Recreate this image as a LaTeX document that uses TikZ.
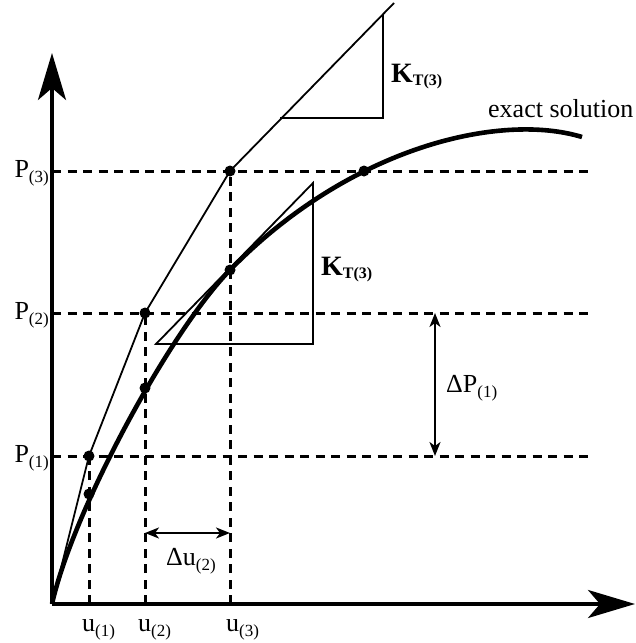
\documentclass[tikz,border=0pt]{standalone}
\usepackage{fontspec}
\setmainfont{Liberation Serif}
\usetikzlibrary{arrows.meta}
\newcommand{\sbs}[1]{\raisebox{-5pt}{\fontsize{17}{20}\selectfont #1}}
\newcommand{\ksbs}[1]{\raisebox{-3pt}{\fontsize{16}{19}\selectfont\bfseries #1}}
\begin{document}
\begin{tikzpicture}[x=1pt,y=-1pt,
  axis/.style={line width=3.4pt},
  guide/.style={line width=3pt, dash pattern=on 9pt off 6.5pt},
  thinline/.style={line width=1.8pt},
  exact/.style={line width=4.6pt},
  dot/.style={circle, fill=black, inner sep=0pt, minimum size=11pt},
  lbl/.style={font=\fontsize{26}{30}\selectfont, inner sep=0pt},
  klbl/.style={font=\fontsize{28}{32}\selectfont\bfseries, inner sep=0pt},
  bigtip/.style={-{Stealth[length=47pt,width=28pt,inset=12pt]}},
  dimarr/.style={line width=2.2pt, {Stealth[length=14pt,width=11pt,inset=4pt]}-{Stealth[length=14pt,width=11pt,inset=4pt]}}
]
\useasboundingbox (0,0) rectangle (636,643);

% axes
\coordinate (O) at (52,604);
\coordinate (ytop) at (52,53);
\coordinate (xend) at (635,604);

% points
\node[dot] (a1) at (89,456) {};
\node[dot] (b1) at (89,494) {};
\node[dot] (a2) at (145,313) {};
\node[dot] (b2) at (145,388) {};
\node[dot] (a3) at (230,171) {};
\node[dot] (b3) at (230,270) {};
\node[dot] (c3) at (364,171) {};

% guide line end coordinates
\coordinate (h1s) at (52,456); \coordinate (h1e) at (590,456);
\coordinate (h2s) at (52,313); \coordinate (h2e) at (590,313);
\coordinate (h3s) at (52,171); \coordinate (h3e) at (590,171);
\coordinate (v1) at (89,604);
\coordinate (v2) at (145,604);
\coordinate (v3) at (230,604);

\draw[guide] (h1s) -- (h1e);
\draw[guide] (h2s) -- (h2e);
\draw[guide] (h3s) -- (h3e);
\draw[guide] (v1) -- (a1.center);
\draw[guide] (v2) -- (a2.center);
\draw[guide] (v3) -- (a3.center);

% exact solution curve
\coordinate (cend) at (582,137);
\draw[exact] (O) .. controls (73,510) and (170,331.5) .. (b3.center)
  .. controls (350,147) and (500,112) .. (cend);

% secant / iteration line
\coordinate (ltop) at (394,3);
\draw[thinline] (O) -- (a1.center) -- (a2.center) -- (a3.center) -- (ltop);

% upper slope triangle
\coordinate (ut1) at (280,118);
\coordinate (ut2) at (383,118);
\coordinate (ut3) at (383,14);
\draw[thinline] (ut1) -- (ut2) -- (ut3);

% lower tangent triangle
\coordinate (lt1) at (156,344);
\coordinate (lt2) at (313,344);
\coordinate (lt3) at (313,183);
\draw[thinline] (lt1) -- (lt2) -- (lt3) -- cycle;

% axes on top
\draw[axis, bigtip] (O) -- (ytop);
\draw[axis, bigtip] (O) -- (xend);

% dimension arrows
\coordinate (dp1) at (435,313);
\coordinate (dp2) at (435,456);
\draw[dimarr] (dp1) -- (dp2);
\coordinate (du1) at (145,533);
\coordinate (du2) at (230,533);
\draw[dimarr] (du1) -- (du2);

% labels
\node[lbl, anchor=base east] (P3) at (49,177) {P\sbs{(3)}};
\node[lbl, anchor=base east] (P2) at (49,319) {P\sbs{(2)}};
\node[lbl, anchor=base east] (P1) at (49,462) {P\sbs{(1)}};
\node[lbl, anchor=base west] (u1) at (82,631) {u\sbs{(1)}};
\node[lbl, anchor=base west] (u2) at (138,631) {u\sbs{(2)}};
\node[lbl, anchor=base west] (u3) at (226,631) {u\sbs{(3)}};
\node[lbl, anchor=base west] (dU) at (166,565) {Δu\sbs{(2)}};
\node[lbl, anchor=base west] (dP) at (446,392) {ΔP\sbs{(1)}};
\node[lbl, anchor=base west] (ex) at (488,117) {exact solution};
\node[klbl, anchor=base west] (K1) at (391,82) {K\ksbs{T(3)}};
\node[klbl, anchor=base west] (K2) at (321,275) {K\ksbs{T(3)}};
\end{tikzpicture}
\end{document}
